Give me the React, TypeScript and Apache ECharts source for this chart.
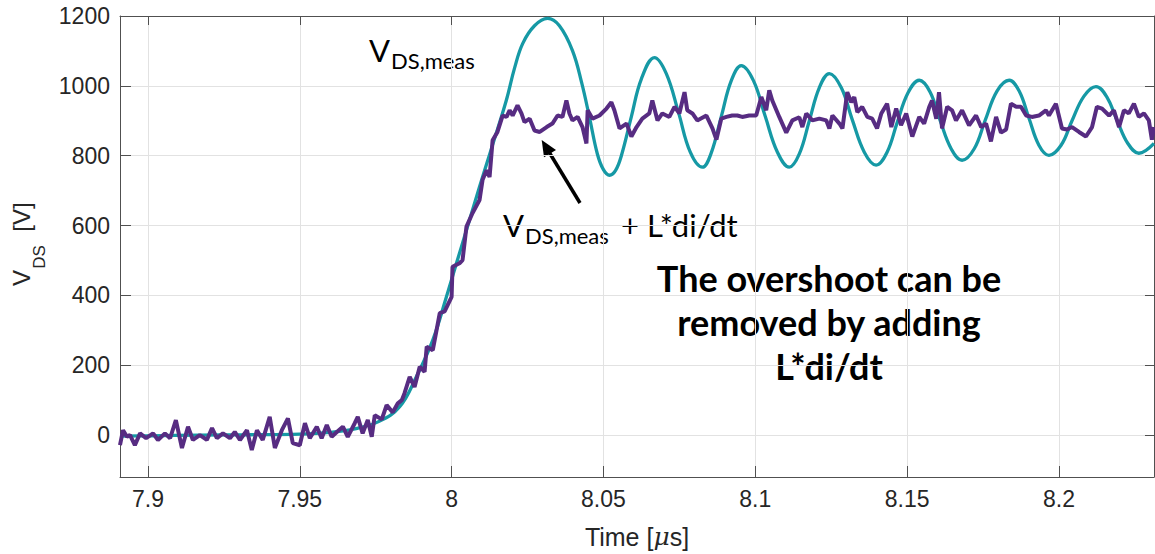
import React, { useEffect, useRef } from "react";
import * as echarts from "echarts";

// V_DS,meas (teal) — time [µs], voltage [V]
const tealTime = [
  7.8908, 7.9007, 7.9171, 7.9336, 7.95, 7.9599, 7.9681, 7.9763, 7.9829, 7.9884,
  7.9938, 7.9983, 8.0016, 8.0049, 8.0092, 8.0135, 8.018, 8.0207, 8.0234, 8.0273,
  8.0316, 8.0355, 8.0398, 8.0428, 8.0454, 8.048, 8.05, 8.052, 8.054, 8.0559,
  8.0592, 8.0625, 8.0668, 8.0707, 8.0747, 8.0786, 8.0826, 8.0855, 8.0888, 8.0921,
  8.0954, 8.0994, 8.1033, 8.1073, 8.1112, 8.1145, 8.1178, 8.1211, 8.1244, 8.1283,
  8.1319, 8.1359, 8.1398, 8.1434, 8.1467, 8.1503, 8.154, 8.1576, 8.1609, 8.1645,
  8.1681, 8.1721, 8.1757, 8.1796, 8.1836, 8.1869, 8.1901, 8.1934, 8.1967, 8.2007,
  8.2043, 8.2082, 8.2122, 8.2158, 8.2191, 8.2227, 8.2263, 8.2313,
];
const tealVolt = [
  -3, -2, 0, 1, 3, 8, 18, 40, 81, 167,
  272, 396, 492, 587, 711, 831, 958, 1050, 1121, 1172,
  1193, 1172, 1101, 1010, 910, 805, 760, 744, 758, 800,
  912, 1020, 1081, 1035, 924, 810, 767, 808, 912, 1015,
  1058, 1015, 912, 810, 767, 805, 900, 995, 1035, 995,
  904, 810, 773, 810, 894, 980, 1016, 982, 900, 820,
  787, 820, 901, 985, 1016, 985, 908, 830, 801, 830,
  900, 970, 998, 968, 902, 835, 807, 835,
];

// V_DS,meas + L*di/dt (purple)
const purpleTime = [
  7.8908, 7.8918, 7.8931, 7.8941, 7.8957, 7.8974, 7.8994, 7.9017, 7.9033, 7.9056,
  7.9073, 7.9092, 7.9112, 7.9132, 7.9148, 7.9171, 7.9194, 7.9211, 7.9227, 7.9247,
  7.927, 7.9286, 7.9303, 7.9326, 7.9342, 7.9359, 7.9378, 7.9401, 7.9418, 7.9441,
  7.9461, 7.9477, 7.95, 7.9517, 7.9533, 7.9556, 7.9572, 7.9589, 7.9605, 7.9622,
  7.9642, 7.9658, 7.9681, 7.9691, 7.9707, 7.9724, 7.9737, 7.9747, 7.977, 7.9786,
  7.9806, 7.9822, 7.9836, 7.9845, 7.9862, 7.9878, 7.9895, 7.9911, 7.9918, 7.9938,
  7.9961, 7.9977, 8.0, 8.0003, 8.0026, 8.0036, 8.0049, 8.0069, 8.0092, 8.0102,
  8.0115, 8.0125, 8.0135, 8.0151, 8.0168, 8.0181, 8.0191, 8.0201, 8.0217, 8.023,
  8.024, 8.0257, 8.0273, 8.029, 8.0313, 8.0332, 8.0349, 8.0365, 8.0378, 8.0388,
  8.0398, 8.0415, 8.0431, 8.0444, 8.0448, 8.0464, 8.0487, 8.051, 8.0526, 8.0536,
  8.0553, 8.0576, 8.0592, 8.0609, 8.0628, 8.0651, 8.0661, 8.0678, 8.0694, 8.0717,
  8.0734, 8.075, 8.0767, 8.0776, 8.0793, 8.0809, 8.0839, 8.0859, 8.0872, 8.0888,
  8.0905, 8.0924, 8.0941, 8.0957, 8.098, 8.1003, 8.102, 8.1036, 8.1046, 8.1056,
  8.1079, 8.1102, 8.1122, 8.1145, 8.1155, 8.1168, 8.1188, 8.1211, 8.1234, 8.1244,
  8.1254, 8.1277, 8.1287, 8.1303, 8.1316, 8.1326, 8.1336, 8.1352, 8.1369, 8.1385,
  8.1401, 8.1415, 8.1434, 8.1448, 8.1464, 8.148, 8.1497, 8.1517, 8.154, 8.1556,
  8.1573, 8.1582, 8.1596, 8.1605, 8.1615, 8.1632, 8.1648, 8.1661, 8.1681, 8.1704,
  8.1727, 8.1744, 8.176, 8.1776, 8.1793, 8.1809, 8.1826, 8.1842, 8.1859, 8.1875,
  8.1892, 8.1911, 8.1934, 8.1957, 8.1967, 8.199, 8.201, 8.2026, 8.2043, 8.2066,
  8.2089, 8.2109, 8.2125, 8.2142, 8.2165, 8.2181, 8.2198, 8.2214, 8.223, 8.2247,
  8.2263, 8.228, 8.2296, 8.2306, 8.2313,
];
const purpleVolt = [
  -29, 14, -5, 0, -29, 5, -9, 5, -14, 5,
  -9, 43, -37, 24, -14, 0, -14, 20, -9, 5,
  -9, 9, -14, 14, -43, 14, -14, 52, -37, 14,
  48, -23, -29, 34, -9, 24, -9, 29, -5, 9,
  24, -5, 34, 52, 5, 43, -5, 57, 45, 86,
  65, 90, 100, 120, 167, 138, 196, 181, 253, 243,
  349, 354, 396, 482, 492, 501, 597, 636, 673, 731,
  758, 739, 844, 868, 915, 911, 930, 915, 944, 921,
  896, 906, 872, 868, 882, 892, 915, 911, 958, 921,
  901, 911, 882, 835, 930, 906, 915, 935, 953, 930,
  878, 892, 855, 882, 906, 921, 958, 901, 921, 911,
  940, 921, 982, 930, 921, 901, 915, 878, 846, 906,
  911, 915, 915, 911, 915, 915, 968, 930, 987, 958,
  911, 866, 901, 910, 882, 921, 901, 906, 901, 878,
  915, 892, 878, 982, 953, 968, 925, 940, 911, 906,
  878, 921, 949, 882, 935, 887, 921, 855, 911, 892,
  940, 958, 906, 982, 878, 940, 930, 901, 930, 887,
  915, 882, 892, 841, 911, 866, 875, 949, 940, 940,
  915, 911, 915, 930, 915, 949, 878, 875, 882, 868,
  855, 882, 940, 935, 915, 930, 882, 930, 921, 949,
  911, 921, 901, 846, 882,
];

const xMin = 7.8908;
const xMax = 8.2313;
const yMin = -120;
const yMax = 1200;

const TEAL = "#1699a5";
const PURPLE = "#572c82";
const AXIS = "#505050";
const TICKTXT = "#262626";
const GRID = "#e2e2e2";
const MATLAB_FONT = "'Liberation Sans', Arial, Helvetica, sans-serif";
const NOTE_FONT = "Lato, 'Open Sans', sans-serif";

export default function App() {
  const ref = useRef<HTMLDivElement>(null);

  useEffect(() => {
    if (!ref.current) return;
    const chart = echarts.init(ref.current, undefined, { renderer: "svg" });

    const tealData = tealTime.map((t, i) => [t, tealVolt[i]]);
    const purpleData = purpleTime.map((t, i) => [t, purpleVolt[i]]);

    const ax = (pos: string, main: boolean) => {
      const isX = pos === "bottom" || pos === "top";
      return {
        type: "value",
        position: pos,
        min: isX ? xMin : yMin,
        max: isX ? xMax : yMax,
        splitNumber: isX ? 7 : 6,
        axisLine: { show: true, onZero: false, lineStyle: { color: AXIS, width: 1 } },
        axisTick: { show: true, inside: true, length: main ? 11 : 9, lineStyle: { color: AXIS, width: 1 } },
        axisLabel: main
          ? {
              show: true,
              color: TICKTXT,
              fontSize: 23,
              fontFamily: MATLAB_FONT,
              margin: 10,
              showMinLabel: false,
              showMaxLabel: !isX,
              formatter: (v: number) => String(Math.round(v * 10000) / 10000),
            }
          : { show: false },
        splitLine: main ? { show: true, lineStyle: { color: GRID, width: 1 } } : { show: false },
      };
    };

    chart.setOption({
      animation: false,
      backgroundColor: "#ffffff",
      grid: { left: 120, right: 1, top: 16, bottom: 77, containLabel: false },
      xAxis: [
        {
          ...ax("bottom", true),
          name: "Time [{mu|μ}s]",
          nameLocation: "middle",
          nameGap: 47,
          nameTextStyle: {
            color: TICKTXT,
            fontSize: 25,
            fontFamily: MATLAB_FONT,
            rich: { mu: { fontStyle: "italic", fontSize: 25, fontFamily: "'DejaVu Serif', serif", color: TICKTXT } },
          },
        },
        ax("top", false),
      ],
      yAxis: [ax("left", true), ax("right", false)],
      series: [
        {
          type: "line",
          name: "VDS,meas",
          data: tealData,
          xAxisIndex: 0,
          yAxisIndex: 0,
          smooth: 0.4,
          showSymbol: false,
          lineStyle: { color: TEAL, width: 3.3 },
          z: 2,
        },
        {
          type: "line",
          name: "VDS,meas + L*di/dt",
          data: purpleData,
          xAxisIndex: 0,
          yAxisIndex: 0,
          showSymbol: false,
          lineStyle: { color: PURPLE, width: 4 },
          z: 3,
        },
      ],
      graphic: [
        // y-axis title V_DS [V]
        {
          type: "text",
          x: 21,
          y: 278,
          rotation: Math.PI / 2,
          style: { text: "V", font: `24px ${MATLAB_FONT}`, fill: TICKTXT, align: "center", verticalAlign: "middle" },
        },
        {
          type: "text",
          x: 39,
          y: 257,
          rotation: Math.PI / 2,
          style: { text: "DS", font: `17px ${MATLAB_FONT}`, fill: TICKTXT, align: "center", verticalAlign: "middle" },
        },
        {
          type: "text",
          x: 21,
          y: 217,
          rotation: Math.PI / 2,
          style: { text: "[V]", font: `24px ${MATLAB_FONT}`, fill: TICKTXT, align: "center", verticalAlign: "middle" },
        },
        // V_DS,meas label
        {
          type: "text",
          x: 369,
          y: 50,
          style: { text: "V", font: `31px ${NOTE_FONT}`, fill: "#000", align: "left", verticalAlign: "middle" },
        },
        {
          type: "text",
          x: 391,
          y: 60,
          style: { text: "DS,meas", font: `22px ${NOTE_FONT}`, fill: "#000", align: "left", verticalAlign: "middle" },
        },
        // V_DS,meas + L*di/dt label
        {
          type: "text",
          x: 503,
          y: 225,
          style: { text: "V", font: `31px ${NOTE_FONT}`, fill: "#000", align: "left", verticalAlign: "middle" },
        },
        {
          type: "text",
          x: 525,
          y: 235,
          style: { text: "DS,meas", font: `22px ${NOTE_FONT}`, fill: "#000", align: "left", verticalAlign: "middle" },
        },
        {
          type: "text",
          x: 621,
          y: 225,
          style: { text: "+ L*di/dt", font: `31px ${NOTE_FONT}`, fill: "#000", align: "left", verticalAlign: "middle" },
        },
        // arrow
        {
          type: "line",
          shape: { x1: 580, y1: 203, x2: 549, y2: 152 },
          style: { stroke: "#000", lineWidth: 3.5 },
        },
        {
          type: "polygon",
          shape: { points: [[541.7, 140], [556, 150], [544, 157.3]] },
          style: { fill: "#000" },
        },
        // bold note
        {
          type: "text",
          x: 829,
          y: 322,
          style: {
            text: "The overshoot can be\nremoved by adding\nL*di/dt",
            font: `bold 36px ${NOTE_FONT}`,
            lineHeight: 44,
            fill: "#000",
            align: "center",
            verticalAlign: "middle",
          },
        },
      ],
    });

    return () => chart.dispose();
  }, []);

  return (
    <div
      ref={ref}
      style={{ position: "absolute", left: 0, top: 0, width: 1155, height: 554, background: "#fff" }}
    />
  );
}
